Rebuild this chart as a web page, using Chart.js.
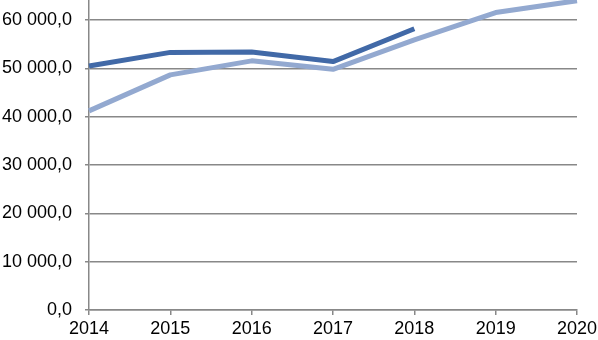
<!DOCTYPE html>
<html><head><meta charset="utf-8">
<script src="https://cdn.jsdelivr.net/npm/chart.js@4/dist/chart.umd.min.js"></script>
<style>html,body{margin:0;padding:0;background:#fff}#w{width:598px;height:340px}</style>
</head><body><div id="w"><canvas id="c"></canvas></div>
<script>
const years = ['2014','2015','2016','2017','2018','2019','2020'];
const seriesDark = [50500, 53300, 53400, 51400, 58200, null, null];
const seriesLight = [41200, 48650, 51550, 49800, 55900, 61550, 64000];
const yTicks = [0, 10000, 20000, 30000, 40000, 50000, 60000];

function fmt(v){
  const s = Math.round(v).toString().replace(/\B(?=(\d{3})+(?!\d))/g, ' ');
  return s + ',0';
}
const font = {family:'"Liberation Sans", Arial, sans-serif', size:18};
new Chart(document.getElementById('c'), {
  type:'line',
  data:{labels:years, datasets:[
    {data:seriesLight, borderColor:'#93a9d0', borderWidth:5, pointRadius:0, tension:0, borderCapStyle:'butt', borderJoinStyle:'round'},
    {data:seriesDark, borderColor:'#4169a7', borderWidth:5, pointRadius:0, tension:0, borderCapStyle:'butt', borderJoinStyle:'round', spanGaps:false}
  ]},
  options:{
    responsive:true, maintainAspectRatio:false, animation:false,
    layout:{padding:{left:0,right:21,top:0,bottom:0}},
    plugins:{legend:{display:false}, tooltip:{enabled:false}},
    scales:{
      x:{
        offset:false,
        grid:{drawOnChartArea:false, drawTicks:true, tickLength:5, color:'#888', lineWidth:1.5},
        border:{display:true, color:'#888', width:1.5},
        ticks:{font, color:'#000', padding:3, maxRotation:0, autoSkip:false},
        afterFit(s){ s.height = 30; s.paddingLeft = 0; s.paddingRight = 0; }
      },
      y:{
        min:0, max:64140,
        afterBuildTicks(s){ s.ticks = yTicks.map(v=>({value:v})); },
        grid:{color:'#888', lineWidth:1.5, tickLength:4, drawTicks:true},
        border:{display:true, color:'#888', width:1.5},
        ticks:{font, color:'#000', padding:13, callback:(v)=>fmt(v)},
        afterFit(s){ s.width = 89; s.paddingTop = 0; s.paddingBottom = 0; }
      }
    }
  }
});
</script></body></html>
